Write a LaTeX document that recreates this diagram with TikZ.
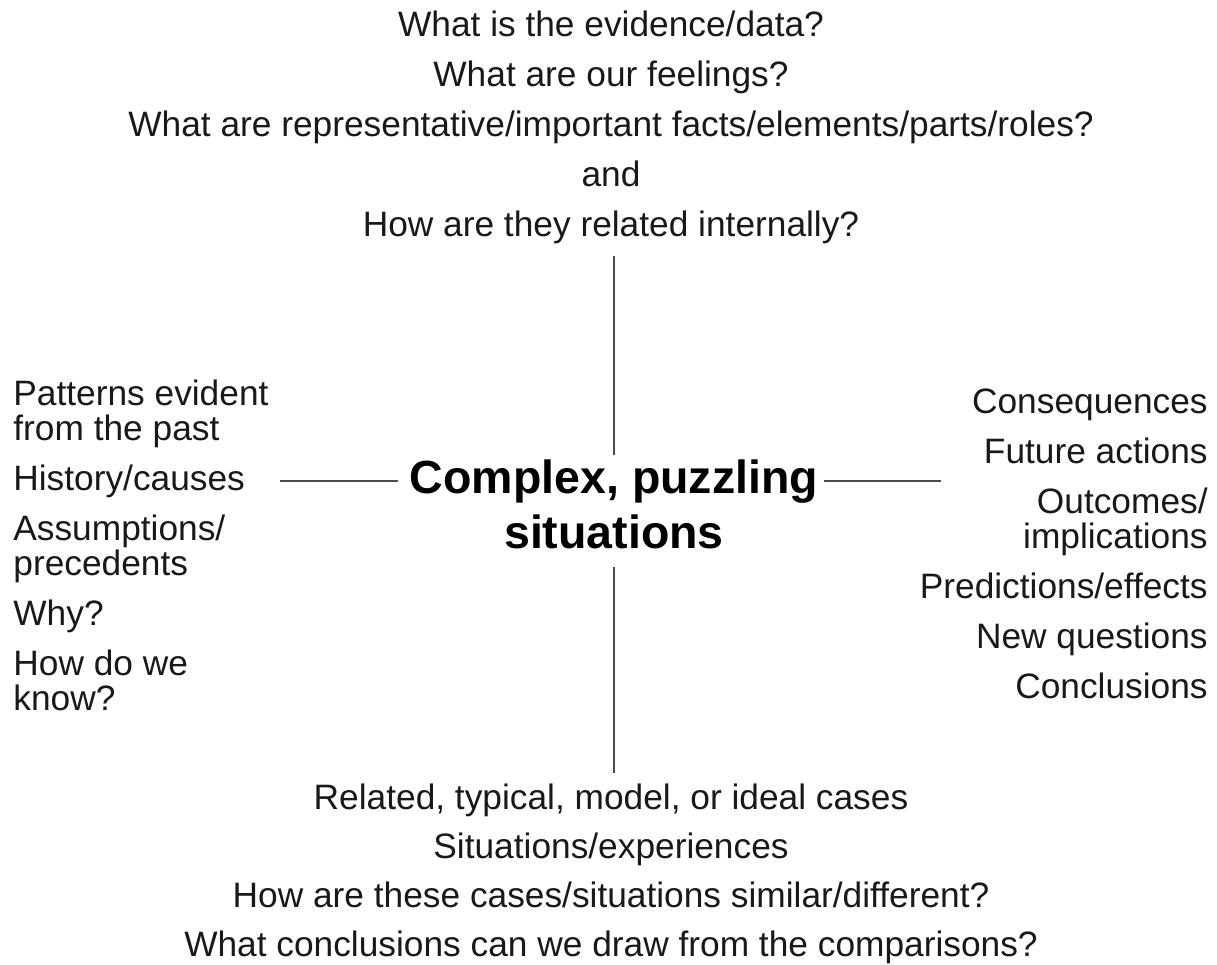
\documentclass[tikz,border=0pt]{standalone}
\usepackage{fontspec}
\setmainfont{Liberation Sans}
\usetikzlibrary{positioning}

\begin{document}
\begin{tikzpicture}[x=1pt, y=-1pt, thick]
\tikzstyle{hubtext} = [inner sep=0pt, font=\fontsize{46.5}{55}\selectfont\bfseries]
\tikzstyle{group} = [inner sep=0pt, text=black!90, font=\fontsize{35.3}{35}\selectfont]
\tikzstyle{link} = [draw, black!70, line width=2.2pt]

\useasboundingbox (0,0) rectangle (1217,964);

\node [hubtext, anchor=base] (hub) at (614,493) {Complex, puzzling};
\node [hubtext, anchor=base] (hubsub) at ([yshift=-55pt]hub.base) {situations};

\node [group, align=center, anchor=north, font=\fontsize{35.3}{50}\selectfont] (data) at (611,11)
  {What is the evidence/data?\\What are our feelings?\\What are representative/important facts/elements/parts/roles?\\and\\How are they related internally?};
\node [group, align=left, anchor=north west] (past) at (13,380)
  {Patterns evident\\from the past\\[15pt]History/causes\\[15pt]Assumptions/\\precedents\\[15pt]Why?\\[15pt]How do we\\know?};
\node [group, align=right, anchor=north east] (future) at (1208,388)
  {Consequences\\[15pt]Future actions\\[15pt]Outcomes/\\implications\\[15pt]Predictions/effects\\[15pt]New questions\\[15pt]Conclusions};
\node [group, align=center, anchor=north, font=\fontsize{35.3}{49}\selectfont] (cases) at (611,784)
  {Related, typical, model, or ideal cases\\Situations/experiences\\How are these cases/situations similar/different?\\What conclusions can we draw from the comparisons?};

\path [link, shorten <=4pt, shorten >=11pt] (hub.north) -- (hub.north |- data.south);
\path [link, shorten <=18pt, shorten >=11pt] (hubsub.south) -- (hubsub.south |- cases.north);
\path [link, shorten <=12pt, shorten >=11pt] (hub.west) -- (past.east |- hub.west);
\path [link, shorten <=6pt, shorten >=-22pt] (hub.east) -- (future.west |- hub.east);
\end{tikzpicture}
\end{document}
